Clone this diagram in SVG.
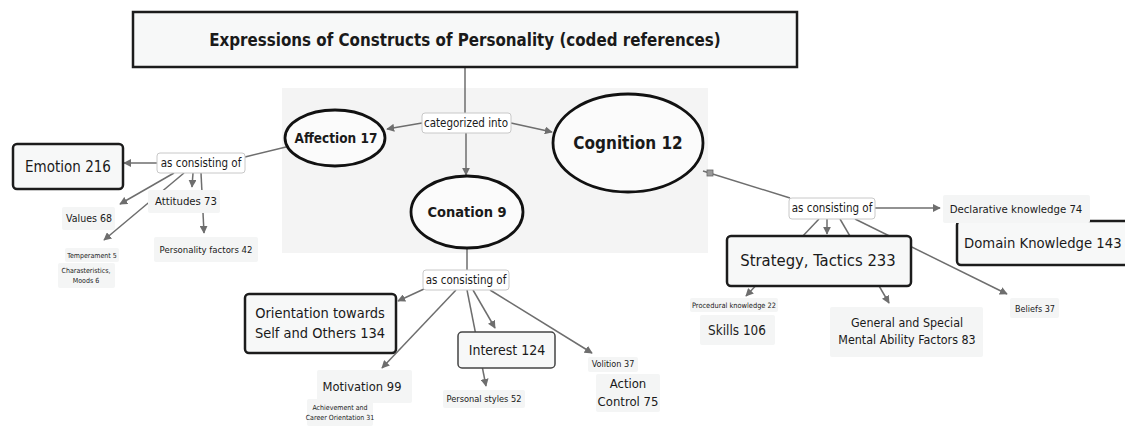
<svg xmlns="http://www.w3.org/2000/svg" width="1125" height="430" viewBox="0 0 1125 430">
<defs>
<marker id="ah" viewBox="0 0 10 10" refX="9" refY="5" markerWidth="8" markerHeight="8" markerUnits="userSpaceOnUse" orient="auto">
<path d="M0,0 L10,5 L0,10 z" fill="#6e6e6e"/>
</marker>
<style>
text{font-family:"DejaVu Sans Condensed","DejaVu Sans","Liberation Sans",sans-serif;font-stretch:condensed;fill:#1a1a1a;text-anchor:middle}
.b{font-weight:bold}
.thick{fill:#f7f8f8;stroke:#1c1c1c;stroke-width:2.5}
.mid{fill:#f7f8f8;stroke:#444;stroke-width:1.5}
.soft{fill:#f4f5f5;stroke:none}
.link{fill:#ffffff;stroke:#c8c8c8;stroke-width:1}
.ell{fill:#fbfbfb;stroke:#111;stroke-width:2.8}
.c{stroke:#6e6e6e;stroke-width:1.5;fill:none}
.a{marker-end:url(#ah)}
</style>
</defs>
<rect width="1125" height="430" fill="#ffffff"/>
<rect x="282" y="88" width="426" height="165" fill="#f4f4f4"/>

<g id="connectors">
<line class="c" x1="465" y1="67" x2="465" y2="113"/>
<line class="c a" x1="422" y1="123" x2="387" y2="129"/>
<line class="c a" x1="511" y1="123" x2="552" y2="132"/>
<line class="c a" x1="466" y1="133" x2="466" y2="175"/>
<line class="c" x1="286" y1="147" x2="245" y2="157"/>
<line class="c a" x1="157" y1="163" x2="124" y2="163"/>
<line class="c a" x1="174" y1="173" x2="120" y2="204"/>
<line class="c a" x1="184" y1="173" x2="104" y2="240"/>
<line class="c a" x1="193" y1="173" x2="192" y2="187"/>
<line class="c a" x1="201" y1="173" x2="204" y2="233"/>
<line class="c" x1="467" y1="248" x2="467" y2="270"/>
<line class="c a" x1="424" y1="289" x2="398" y2="301"/>
<line class="c a" x1="456" y1="290" x2="382" y2="368"/>
<line class="c a" x1="467" y1="290" x2="486" y2="386"/>
<line class="c a" x1="473" y1="290" x2="495" y2="328"/>
<line class="c a" x1="490" y1="290" x2="592" y2="353"/>
<line class="c" x1="703" y1="171" x2="790" y2="198"/>
<rect x="707" y="170" width="6" height="6" fill="#999" stroke="#666" stroke-width="0.8"/>
<line class="c a" x1="875" y1="208" x2="940" y2="208"/>
<line class="c a" x1="827" y1="219" x2="827" y2="234"/>
<line class="c a" x1="819" y1="219" x2="746" y2="296"/>
<line class="c a" x1="840" y1="219" x2="889" y2="303"/>
<line class="c a" x1="855" y1="219" x2="1007" y2="294"/>
</g>

<g id="title">
<rect class="thick" x="133" y="12" width="664" height="55"/>
<text class="b" x="465" y="46" font-size="16.8">Expressions of Constructs of Personality (coded references)</text>
</g>

<g id="emotion">
<rect class="thick" x="13" y="144" width="110" height="45" rx="4"/>
<text x="68" y="172" font-size="15">Emotion 216</text>
</g>
<g id="aff-link">
<rect class="link" x="157" y="153" width="88" height="20" rx="3"/>
<text x="201" y="167" font-size="11.5">as consisting of</text>
</g>
<g id="values">
<rect class="soft" x="62" y="207" width="53" height="23" rx="2"/>
<text x="89" y="222" font-size="10.5">Values 68</text>
</g>
<g id="attitudes">
<rect class="soft" x="148" y="190" width="72" height="23" rx="2"/>
<text x="186" y="205" font-size="11.3">Attitudes 73</text>
</g>
<g id="personality-factors">
<rect class="soft" x="154" y="237" width="104" height="25" rx="2"/>
<text x="206" y="253" font-size="9.5">Personality factors 42</text>
</g>
<g id="temperament">
<rect class="soft" x="65" y="248" width="54" height="14" rx="2"/>
<text x="92" y="258" font-size="7">Temperament 5</text>
</g>
<g id="characteristics">
<rect class="soft" x="58" y="263" width="57" height="25" rx="2"/>
<text x="86" y="273" font-size="7">Charasteristics,</text>
<text x="86" y="283" font-size="7">Moods 6</text>
</g>

<g id="affection">
<ellipse class="ell" cx="335" cy="138" rx="50" ry="28"/>
<text class="b" x="336" y="143" font-size="13.5">Affection 17</text>
</g>
<g id="categorized">
<rect class="link" x="422" y="113" width="89" height="20" rx="3"/>
<text x="466" y="127" font-size="11.5">categorized into</text>
</g>
<g id="cognition">
<ellipse class="ell" cx="628" cy="143" rx="75" ry="49"/>
<text class="b" x="628" y="149" font-size="17">Cognition 12</text>
</g>
<g id="conation">
<ellipse class="ell" cx="467" cy="212" rx="56" ry="36"/>
<text class="b" x="467" y="217" font-size="14.5">Conation 9</text>
</g>

<g id="con-link">
<rect class="link" x="423" y="270" width="86" height="20" rx="3"/>
<text x="466" y="284" font-size="11.5">as consisting of</text>
</g>
<g id="orientation">
<rect class="thick" x="245" y="294" width="151" height="59" rx="4"/>
<text x="320" y="318" font-size="14.5">Orientation towards</text>
<text x="320" y="338" font-size="14.5">Self and Others 134</text>
</g>
<g id="interest">
<rect class="mid" x="458" y="332" width="97" height="36" rx="4"/>
<text x="507" y="355" font-size="14">Interest 124</text>
</g>
<g id="motivation">
<rect class="soft" x="317" y="370" width="95" height="33" rx="2"/>
<text x="362" y="391" font-size="12.8">Motivation 99</text>
</g>
<g id="achievement">
<rect class="soft" x="307" y="399" width="66" height="27" rx="2"/>
<text x="340" y="410" font-size="7">Achievement and</text>
<text x="340" y="420" font-size="7">Career Orientation 31</text>
</g>
<g id="personal-styles">
<rect class="soft" x="443" y="390" width="82" height="18" rx="2"/>
<text x="484" y="402" font-size="9.2">Personal styles 52</text>
</g>
<g id="volition">
<rect class="soft" x="588" y="357" width="50" height="15" rx="2"/>
<text x="613" y="367" font-size="9">Volition 37</text>
</g>
<g id="action-control">
<rect class="soft" x="596" y="374" width="64" height="38" rx="2"/>
<text x="628" y="388" font-size="13">Action</text>
<text x="628" y="406" font-size="13">Control 75</text>
</g>

<g id="cog-link">
<rect class="link" x="789" y="198" width="86" height="21" rx="3"/>
<text x="832" y="212" font-size="11.5">as consisting of</text>
</g>
<g id="domain">
<rect class="thick" x="957" y="221" width="185" height="44" rx="4"/>
<text x="964" y="248" font-size="14.7" style="text-anchor:start">Domain Knowledge 143</text>
</g>
<g id="declarative">
<rect class="soft" x="943" y="195" width="147" height="28" rx="2"/>
<text x="1016" y="213" font-size="11.3">Declarative knowledge 74</text>
</g>
<g id="strategy">
<rect class="thick" x="727" y="236" width="184" height="50" rx="4"/>
<text x="818" y="266" font-size="16.5">Strategy, Tactics 233</text>
</g>
<g id="procedural">
<rect class="soft" x="690" y="298" width="88" height="14" rx="2"/>
<text x="734" y="308" font-size="7.4">Procedural knowledge 22</text>
</g>
<g id="skills">
<rect class="soft" x="700" y="315" width="75" height="30" rx="2"/>
<text x="737" y="335" font-size="13.4">Skills 106</text>
</g>
<g id="mental-ability">
<rect class="soft" x="830" y="307" width="153" height="50" rx="2"/>
<text x="907" y="327" font-size="12.4">General and Special</text>
<text x="907" y="344" font-size="12.4">Mental Ability Factors 83</text>
</g>
<g id="beliefs">
<rect class="soft" x="1010" y="298" width="49" height="20" rx="2"/>
<text x="1035" y="312" font-size="9">Beliefs 37</text>
</g>
</svg>
